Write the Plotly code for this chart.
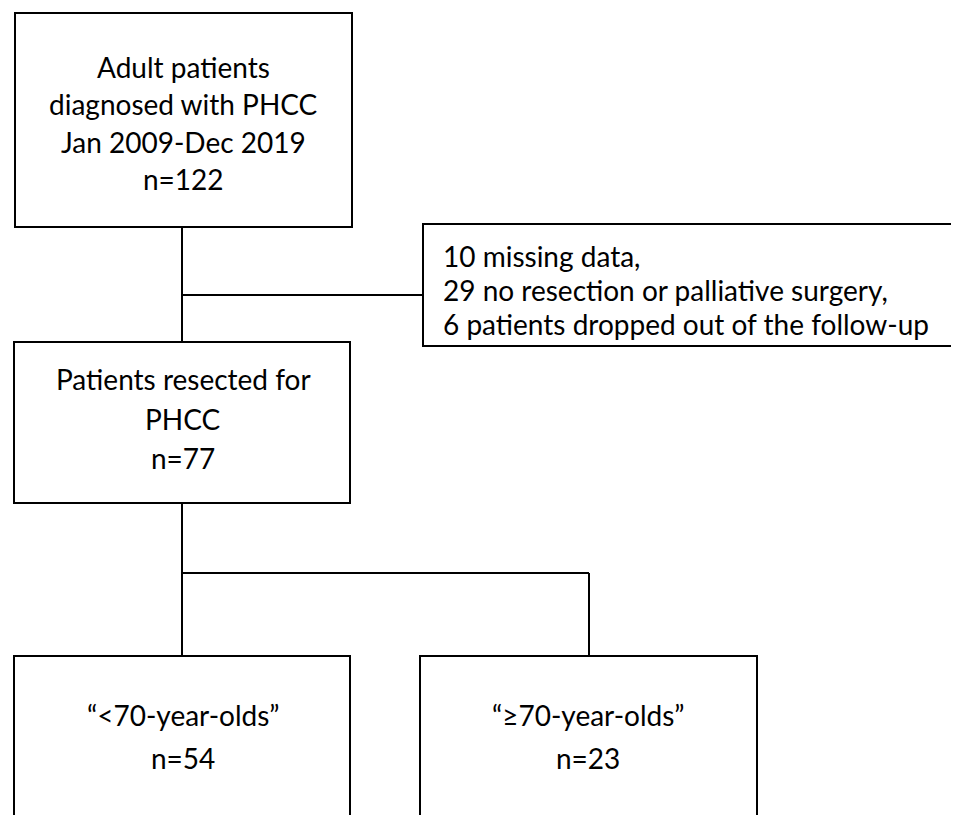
import plotly.graph_objects as go

# ---- data ----
stage_titles = ["Adult patients\ndiagnosed with PHCC\nJan 2009-Dec 2019",
                "Patients resected for\nPHCC",
                "\u201c<70-year-olds\u201d",
                "\u201c\u226570-year-olds\u201d"]
stage_counts = [122, 77, 54, 23]
excluded_counts = [10, 29, 6]
excluded_reasons = ["missing data,", "no resection or palliative surgery,",
                    "patients dropped out of the follow-up"]

# ---- layout geometry (page pixels) ----
W, H = 959, 815
OFF = 8  # page body margin
boxes = [  # x0, y0, x1, y1
    (15, 13, 352, 227),
    (14, 342, 350, 503),
    (14, 656, 350, 840),
    (420, 656, 757, 840),
]
line_y = [[69, 106, 144, 181], [381, 421, 460], [717, 760], [717, 760]]
excl_box = (423, 224, 990, 346)
excl_y = [258, 292, 326]
excl_x = 441

FONT = "Lato"
FS = 28
LW = 2
DY = -2  # cap-centre vs anchor correction

fig = go.Figure()
shapes = []
for (x0, y0, x1, y1) in boxes + [excl_box]:
    shapes.append(dict(type="rect", x0=x0, y0=y0, x1=x1, y1=y1, xref="x", yref="y",
                       line=dict(color="black", width=LW), fillcolor="white", layer="below"))

cx = [183, 183, 183, 588]
conn = [
    ((182, 227), (182, 342)),
    ((182, 295), (423, 295)),
    ((182, 503), (182, 656)),
    ((182, 573), (589, 573)),
    ((589, 573), (589, 656)),
]
for (a, b) in conn:
    shapes.append(dict(type="line", x0=a[0], y0=a[1], x1=b[0], y1=b[1], xref="x", yref="y",
                       line=dict(color="black", width=LW)))

annots = []
for i, (title, n) in enumerate(zip(stage_titles, stage_counts)):
    lines = title.split("\n") + [f"n={n}"]
    for t, y in zip(lines, line_y[i]):
        annots.append(dict(x=cx[i], y=y + DY, text=t, showarrow=False, xref="x", yref="y",
                           xanchor="center", yanchor="middle",
                           font=dict(family=FONT, size=FS, color="black")))
for c, r, y in zip(excluded_counts, excluded_reasons, excl_y):
    annots.append(dict(x=excl_x, y=y + DY, text=f"{c} {r}", showarrow=False, xref="x", yref="y",
                       xanchor="left", yanchor="middle",
                       font=dict(family=FONT, size=FS, color="black")))

fig.update_layout(
    width=W, height=H, margin=dict(l=0, r=0, t=0, b=0),
    paper_bgcolor="white", plot_bgcolor="white",
    xaxis=dict(range=[OFF, W + OFF], visible=False, fixedrange=True),
    yaxis=dict(range=[H + OFF, OFF], visible=False, fixedrange=True),
    shapes=shapes, annotations=annots, showlegend=False,
)
fig.write_html("out.html")
